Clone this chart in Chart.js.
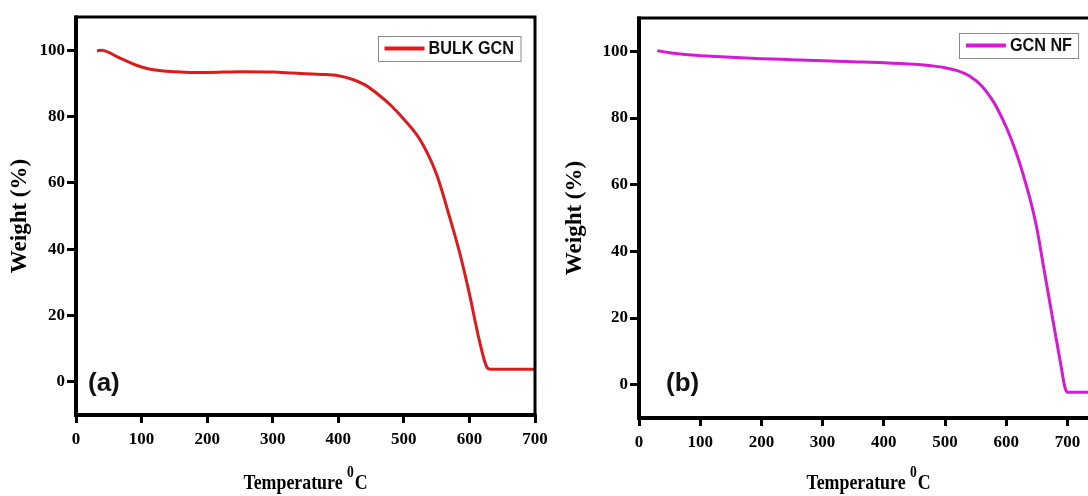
<!DOCTYPE html>
<html>
<head>
<meta charset="utf-8">
<title>TGA - Bulk GCN / GCN NF</title>
<script src="https://cdn.jsdelivr.net/npm/chart.js@4.4.1/dist/chart.umd.min.js"></script>
<style>
  html, body { margin: 0; padding: 0; background: #fff; overflow: hidden; }
  body { width: 1088px; height: 496px; position: relative; }
  .panel { position: absolute; top: 0; }
  .panel canvas { display: block; }
  #panelA { left: 0; }
  #panelB { left: 560px; }
</style>
</head>
<body>
<div class="panel" id="panelA"><canvas id="chartA" width="560" height="496"></canvas></div>
<div class="panel" id="panelB"><canvas id="chartB" width="560" height="496"></canvas></div>
<script>
/* global Chart */

// values
const bulkTemp = [32, 40, 50, 60, 75, 90, 110, 130, 150, 175, 200, 250, 300, 330, 350, 375, 400, 420, 440, 460, 480, 500, 525, 550, 570, 585, 600, 615, 627, 632, 700]
const bulkWeight = [99.8, 100.0, 99.3, 98.3, 96.9, 95.6, 94.4, 93.8, 93.5, 93.3, 93.3, 93.5, 93.4, 93.1, 92.9, 92.7, 92.3, 91.3, 89.6, 86.8, 83.4, 79.2, 72.9, 62.5, 49.5, 39.0, 26.5, 12.6, 4.3, 3.8, 3.8]

const nfTemp = [30, 50, 80, 110, 150, 200, 250, 300, 350, 400, 450, 480, 500, 520, 540, 560, 580, 590, 600, 610, 620, 630, 640, 650, 660, 670, 680, 690, 696, 700, 750]
const nfWeight = [100.2, 99.6, 99.0, 98.6, 98.2, 97.8, 97.5, 97.2, 96.9, 96.6, 96.1, 95.6, 95.1, 94.2, 92.6, 89.6, 84.6, 81.2, 77.3, 72.8, 67.6, 61.6, 55.0, 47.0, 36.5, 26.0, 15.5, 5.2, -0.8, -2.3, -2.3]

const xTicks = [0, 100, 200, 300, 400, 500, 600, 700]
const yTicks = [0, 20, 40, 60, 80, 100]

const serif = '"Liberation Serif", "Times New Roman", serif'
const sans = '"Liberation Sans", Arial, sans-serif'

// black box round the plot, thicker on the two axes
const framePlugin = {
  id: 'frame',
  afterDatasetsDraw (chart) {
    const { ctx, chartArea: a } = chart
    ctx.save()
    ctx.strokeStyle = '#000'
    ctx.lineWidth = 3
    ctx.strokeRect(a.left, a.top, a.right - a.left, a.bottom - a.top)
    ctx.lineWidth = 4
    ctx.beginPath()
    ctx.moveTo(a.left, a.top - 1.5)
    ctx.lineTo(a.left, a.bottom)
    ctx.lineTo(a.right + 1.5, a.bottom)
    ctx.stroke()
    ctx.restore()
  }
}

// legend drawn inside the plot with a thin grey box
const boxLegend = {
  id: 'boxLegend',
  afterDraw (chart, args, opts) {
    const ds = chart.data.datasets[0]
    const { ctx, chartArea: a } = chart
    ctx.save()
    ctx.font = `bold 18px ${sans}`
    const textW = ctx.measureText(ds.label).width * 0.9
    const w = 7 + 40 + 5 + textW + 5
    const h = 25
    const x = a.right - opts.right - w
    const y = a.top + opts.top
    ctx.fillStyle = '#fff'
    ctx.fillRect(x, y, w, h)
    ctx.strokeStyle = '#8a8a8a'
    ctx.lineWidth = 1
    ctx.strokeRect(Math.round(x) + 0.5, Math.round(y) + 0.5, w, h)
    ctx.strokeStyle = ds.borderColor
    ctx.lineWidth = 4
    ctx.beginPath()
    ctx.moveTo(x + 7, y + h / 2)
    ctx.lineTo(x + 47, y + h / 2)
    ctx.stroke()
    ctx.fillStyle = '#111'
    ctx.textBaseline = 'middle'
    ctx.translate(x + 51, y + h / 2 + 1)
    ctx.scale(0.9, 1)
    ctx.fillText(ds.label, 0, 0)
    ctx.restore()
  }
}

// "(a)" / "(b)" tag in the lower left corner
const panelTag = {
  id: 'panelTag',
  afterDraw (chart, args, opts) {
    const { ctx, chartArea: a } = chart
    ctx.save()
    ctx.font = `bold 26px ${sans}`
    ctx.fillStyle = '#111'
    ctx.textBaseline = 'middle'
    ctx.fillText(opts.text, a.left + opts.dx, a.bottom - opts.dy)
    ctx.restore()
  }
}

// x title with the raised 0 before C
const tempTitle = {
  id: 'tempTitle',
  afterDraw (chart, args, opts) {
    const { ctx, chartArea: a } = chart
    const main = `bold 21px ${serif}`
    const sup = `bold 16px ${serif}`
    const sx = 0.85
    ctx.save()
    ctx.font = main
    const w1 = ctx.measureText('Temperature ').width
    const w3 = ctx.measureText('C').width
    ctx.font = sup
    const w2 = ctx.measureText('0').width
    const total = (w1 + w2 + 1 + w3) * sx
    ctx.translate((a.left + a.right) / 2 - total / 2, opts.y)
    ctx.scale(sx, 1)
    ctx.fillStyle = '#000'
    ctx.textBaseline = 'alphabetic'
    ctx.font = main
    ctx.fillText('Temperature ', 0, 0)
    ctx.font = sup
    ctx.fillText('0', w1, -12)
    ctx.font = main
    ctx.fillText('C', w1 + w2 + 1, 0)
    ctx.restore()
  }
}

function makeChart (canvasId, temps, weights, cfg) {
  const points = temps.map((t, i) => ({ x: t, y: weights[i] }))
  const tickFont = { family: serif, size: 17, weight: 'bold' }

  return new Chart(document.getElementById(canvasId), {
    type: 'line',
    data: {
      datasets: [{
        label: cfg.label,
        data: points,
        borderColor: cfg.color,
        backgroundColor: cfg.color,
        borderWidth: 3,
        pointRadius: 0,
        fill: false,
        cubicInterpolationMode: 'monotone'
      }]
    },
    options: {
      responsive: false,
      animation: false,
      events: [],
      layout: { padding: cfg.padding },
      scales: {
        x: {
          type: 'linear',
          min: 0,
          max: cfg.xMax,
          afterBuildTicks: (s) => { s.ticks = xTicks.map(v => ({ value: v })) },
          afterFit: (s) => { s.height = cfg.xAxisHeight },
          border: { display: false },
          grid: { drawOnChartArea: false, drawTicks: true, tickLength: 8, tickWidth: 3, tickColor: '#000' },
          ticks: { color: '#000', font: tickFont, padding: 6, maxRotation: 0, autoSkip: false }
        },
        y: {
          min: -10,
          max: 110,
          afterBuildTicks: (s) => { s.ticks = yTicks.map(v => ({ value: v })) },
          afterFit: (s) => { s.width = cfg.yAxisWidth },
          border: { display: false },
          grid: { drawOnChartArea: false, drawTicks: true, tickLength: 9, tickWidth: 3, tickColor: '#000' },
          ticks: { color: '#000', font: tickFont, padding: 2, autoSkip: false },
          title: {
            display: true,
            text: 'Weight (%)',
            color: '#000',
            font: { family: serif, size: 23, weight: 'bold' },
            padding: { top: cfg.yTitlePad, bottom: 0 }
          }
        }
      },
      plugins: {
        legend: { display: false },
        tooltip: { enabled: false },
        boxLegend: cfg.legend,
        panelTag: cfg.tag,
        tempTitle: { y: 489 }
      }
    },
    plugins: [framePlugin, boxLegend, panelTag, tempTitle]
  })
}

makeChart('chartA', bulkTemp, bulkWeight, {
  label: 'BULK GCN',
  color: '#dc1c1c',
  xMax: 700,
  padding: { top: 17, right: 25, left: 0, bottom: 0 },
  xAxisHeight: 81,
  yAxisWidth: 76,
  yTitlePad: 6,
  legend: { right: 15, top: 19 },
  tag: { text: '(a)', dx: 12, dy: 31 }
})

makeChart('chartB', nfTemp, nfWeight, {
  label: 'GCN NF',
  color: '#d41ad4',
  xMax: 750,
  padding: { top: 18, right: 22, left: 0, bottom: 0 },
  xAxisHeight: 78,
  yAxisWidth: 79,
  yTitlePad: 1,
  legend: { right: 20, top: 15 },
  tag: { text: '(b)', dx: 27, dy: 34 }
})
</script>
</body>
</html>
